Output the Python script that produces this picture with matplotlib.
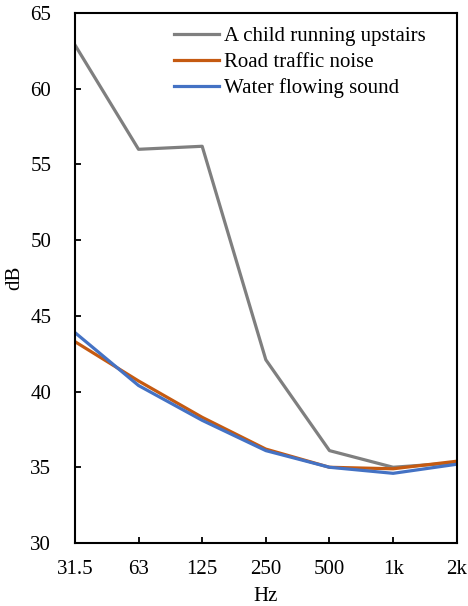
import matplotlib
matplotlib.use("Agg")
import matplotlib.pyplot as plt

# octave band centres and levels
bands = ["31.5", "63", "125", "250", "500", "1k", "2k"]
child_running = [62.9, 56.0, 56.2, 42.1, 36.1, 35.0, 35.3]
road_traffic = [43.3, 40.7, 38.3, 36.2, 35.0, 34.9, 35.4]
water_flowing = [43.9, 40.4, 38.1, 36.1, 35.0, 34.6, 35.2]

plt.rcParams['font.family'] = ['Liberation Serif', 'DejaVu Serif']
plt.rcParams['font.size'] = 15

fig = plt.figure(figsize=(4.68, 6.06), dpi=100)
ax = fig.add_axes([0.160, 0.104, 0.816, 0.8745])

x = range(len(bands))
ax.plot(x, child_running, color="#7f7f7f", lw=2.3, label="A child running upstairs")
ax.plot(x, road_traffic, color="#c55a11", lw=2.3, label="Road traffic noise")
ax.plot(x, water_flowing, color="#4472c4", lw=2.3, label="Water flowing sound")

ax.set_xlim(0, len(bands) - 1)
ax.set_ylim(30, 65)
ax.set_xticks(list(x))
ax.set_xticklabels(bands)
ax.set_yticks(range(30, 66, 5))
ax.tick_params(direction="in", length=4, width=1.3)
ax.tick_params(axis="x", pad=12)
ax.tick_params(axis="y", pad=17)
for s in ax.spines.values():
    s.set_linewidth(1.5)

ax.set_xlabel("Hz", labelpad=6)
ax.set_ylabel("dB", labelpad=4)

ax.legend(loc="upper right", bbox_to_anchor=(0.969, 1.01), frameon=False,
          handlelength=2.15, handletextpad=0.25, labelspacing=0.3)

fig.savefig("out.png")
